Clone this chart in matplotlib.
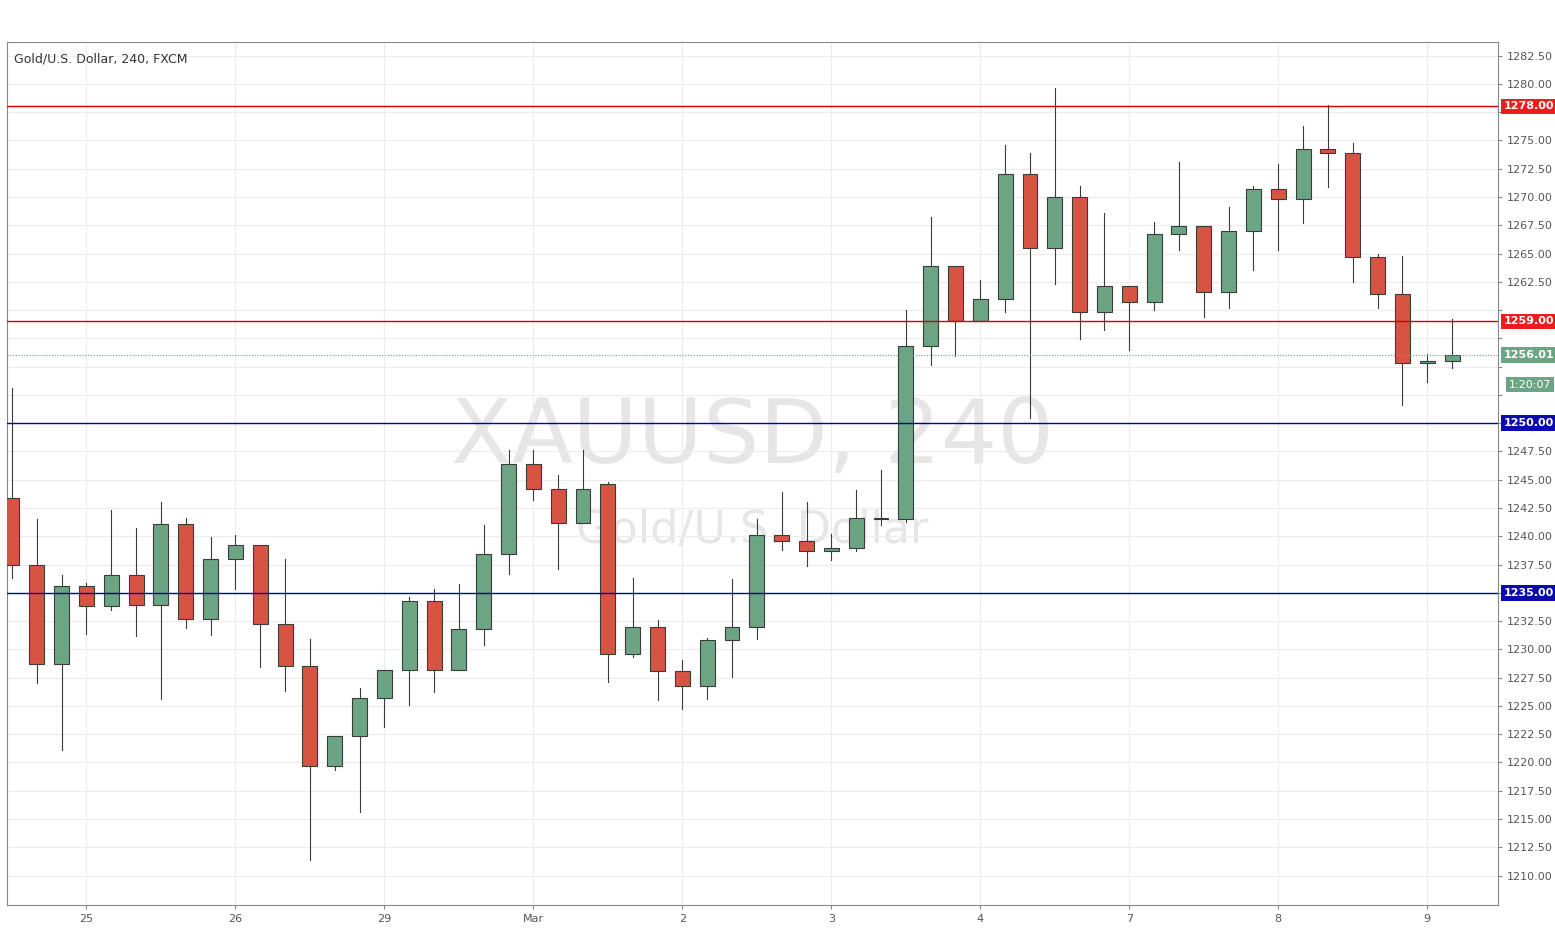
import matplotlib
matplotlib.use("Agg")
import matplotlib.pyplot as plt
from matplotlib.patches import Rectangle

opens = [1243.4,1237.5,1228.7,1235.6,1233.8,1236.6,1233.9,1241.1,1232.7,1238.0,1239.2,1232.2,1228.5,1219.7,1222.3,1225.7,1228.2,1234.3,1228.2,1231.8,
         1238.4,1246.4,1244.2,1241.2,1244.6,1229.6,1232.0,1228.1,1226.8,1230.8,1232.0,1240.1,1239.6,1238.7,1239.0,1241.6,1241.5,1256.8,1263.9,1259.0,
         1261.0,1272.0,1265.5,1270.0,1259.8,1262.1,1260.7,1266.7,1267.4,1261.6,1267.0,1270.7,1269.8,1274.2,1273.9,1264.7,1261.4,1255.3,1255.5]
closes = [1237.5,1228.7,1235.6,1233.8,1236.6,1233.9,1241.1,1232.7,1238.0,1239.2,1232.2,1228.5,1219.7,1222.3,1225.7,1228.2,1234.3,1228.2,1231.8,1238.4,
          1246.4,1244.2,1241.2,1244.2,1229.6,1232.0,1228.1,1226.8,1230.8,1232.0,1240.1,1239.6,1238.7,1239.0,1241.6,1241.5,1256.8,1263.9,1259.0,1261.0,
          1272.0,1265.5,1270.0,1259.8,1262.1,1260.7,1266.7,1267.4,1261.6,1267.0,1270.7,1269.8,1274.2,1273.9,1264.7,1261.4,1255.3,1255.5,1256.0]
highs = [1253.1,1241.5,1236.6,1235.9,1242.3,1240.7,1243.0,1241.6,1239.9,1240.1,1239.2,1238.0,1230.9,1222.3,1226.6,1228.2,1234.6,1235.3,1235.8,1241.0,
         1247.6,1247.6,1245.4,1247.6,1244.8,1236.3,1232.6,1229.1,1231.0,1236.2,1241.5,1243.9,1243.0,1240.2,1244.1,1245.9,1260.0,1268.2,1263.9,1262.7,
         1274.6,1273.9,1279.6,1271.0,1268.6,1262.1,1267.8,1273.1,1267.4,1269.1,1271.0,1272.9,1276.3,1278.1,1274.8,1265.0,1264.8,1256.1,1259.2]
lows = [1236.3,1227.0,1221.1,1231.4,1233.5,1231.2,1225.6,1231.9,1231.3,1235.3,1228.4,1226.3,1211.4,1219.3,1215.6,1223.1,1225.1,1226.2,1228.2,1230.4,
        1236.7,1243.2,1237.1,1241.2,1227.1,1229.3,1225.5,1224.7,1225.6,1227.6,1230.9,1238.8,1237.4,1237.9,1238.7,1241.0,1241.3,1255.1,1255.9,1259.0,
        1259.8,1250.5,1262.3,1257.4,1258.2,1256.5,1260.0,1265.3,1259.4,1260.2,1263.5,1265.3,1267.7,1270.9,1262.5,1260.2,1251.6,1253.6,1254.9]
day_labels = ["25","26","29","Mar","2","3","4","7","8","9"]
red_levels = [1278.0, 1259.0]
blue_levels = [1250.0, 1235.0]
last_price = 1256.01

W, H = 1555, 931
fig = plt.figure(figsize=(W/100, H/100), dpi=100)
fig.patch.set_facecolor("white")
ax = fig.add_axes([7/W, 1-905/H, (1498-7)/W, (905-42)/H])
ax.set_xlim(-0.2, 59.85)
ax.set_ylim(1207.4, 1283.7)

GREEN, RED, EDGE = "#6ba583", "#d75442", "#3b3b3b"
for i, (o, c, h, l) in enumerate(zip(opens, closes, highs, lows)):
    col = GREEN if c >= o else RED
    ax.plot([i, i], [l, h], color=EDGE, lw=0.8, zorder=2)
    ax.add_patch(Rectangle((i-0.3, min(o, c)), 0.6, max(abs(c-o), 0.12),
                           facecolor=col, edgecolor=EDGE, lw=0.8, zorder=3))

marks = red_levels + blue_levels + [last_price, last_price-2.6]
yt = [1210 + 2.5*k for k in range(30)]
ax.set_yticks(yt)
ax.set_yticklabels(["" if any(abs(v-m) < 1.6 for m in marks) else f"{v:.2f}" for v in yt],
                   fontsize=8, color="#555555")
xt = [3 + 6*k for k in range(10)]
ax.set_xticks(xt)
ax.set_xticklabels(day_labels, fontsize=8, color="#555555")
ax.yaxis.tick_right()
ax.tick_params(length=3, color="#888888")
ax.grid(True, color="#ececec", lw=0.8, zorder=0)
for s in ax.spines.values():
    s.set_color("#888888")
    s.set_linewidth(0.8)

def tag(y, txt, fc, dx=0.004, bold=True):
    ax.text(1.0 + dx, y, txt, transform=ax.get_yaxis_transform(), fontsize=8, color="white",
            fontweight="bold" if bold else "normal", va="center", ha="left",
            bbox=dict(boxstyle="square,pad=0.25", fc=fc, ec="none"), zorder=6, clip_on=False)

for lv in red_levels:
    ax.axhline(lv, color="#cc0000", lw=1, zorder=4)
    tag(lv, f"{lv:.2f}", "#ee1c1c")
for lv in blue_levels:
    ax.axhline(lv, color="#0000aa", lw=1, zorder=4)
    tag(lv, f"{lv:.2f}", "#0a0ab0")
ax.axhline(last_price, color="#6ba583", lw=0.8, ls=(0, (1, 1.5)), zorder=4)
tag(last_price, f"{last_price:.2f}", "#6ba583")
tag(last_price-2.6, "1:20:07", "#6ba583", dx=0.007, bold=False)

ax.text(0.50, 0.54, "XAUUSD, 240", transform=ax.transAxes, fontsize=64, color="#e6e6e6", ha="center", va="center", zorder=1)
ax.text(0.50, 0.435, "Gold/U.S. Dollar", transform=ax.transAxes, fontsize=32, color="#e6e6e6", ha="center", va="center", zorder=1)
ax.text(0.005, 0.988, "Gold/U.S. Dollar, 240, FXCM", transform=ax.transAxes, fontsize=9, color="#333333",
        ha="left", va="top", zorder=6)

fig.savefig("out.png", dpi=100)
